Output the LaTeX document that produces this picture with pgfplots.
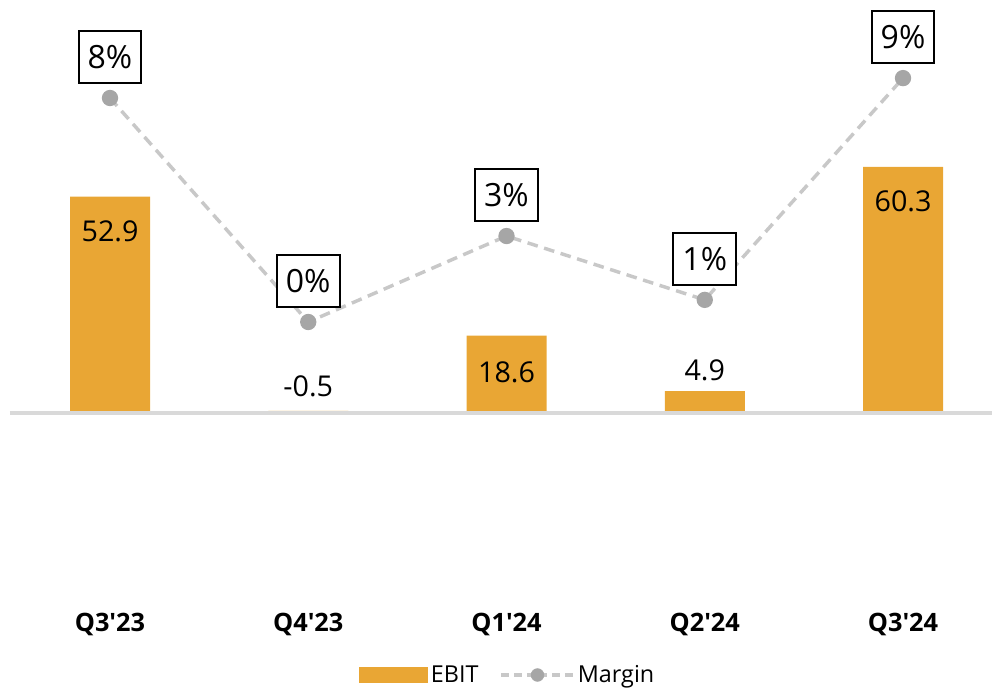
\documentclass[border=0pt]{standalone}
\usepackage{pgfplots}
\pgfplotsset{compat=1.18}
\usepackage{fontspec}
\setmainfont{Open Sans}[Ligatures=TeXOff]
\definecolor{barc}{HTML}{E9A634}
\definecolor{basec}{HTML}{D9D9D9}
\definecolor{linec}{HTML}{C8C8C8}
\definecolor{dotc}{HTML}{A6A6A6}
\begin{document}
\begin{tikzpicture}[x=0.75pt,y=0.75pt]
\useasboundingbox (0,0) rectangle (992,689);
% EBIT axis
\begin{axis}[
  at={(0pt,66.75pt)}, anchor=south west,
  scale only axis, width=744pt, height=450pt,
  xmin=-0.5549, xmax=4.4489,
  ymin=-46.67, ymax=101.48,
  axis lines=none,
  clip=false,
  legend style={at={(0.512,-0.125)}, anchor=center, draw=none, fill=none,
    legend columns=2, font=\fontsize{17.5}{20}\selectfont,
    /tikz/every even column/.append style={column sep=14pt},
    legend cell align=left},
]
\addplot[ybar, bar width=60pt, fill=barc, draw=none, bar shift=0pt,
  legend image code/.code={\fill[barc] (0pt,-6pt) rectangle (52pt,6pt);}]
  coordinates {(0,52.9) (1,-0.5) (2,18.6) (3,4.9) (4,60.3)};
\addlegendentry{EBIT}
\addlegendimage{legend image code/.code={
  \draw[linec, line width=2.6pt, dash pattern=on 6pt off 3.5pt] (0pt,0pt) -- (54pt,0pt);
  \fill[dotc] (27pt,0pt) circle (4.8pt);}}
\addlegendentry{Margin}
\draw[basec, line width=3pt] (axis cs:-0.5045,-0.5) -- (axis cs:4.4489,-0.5);
\addplot[draw=none, mark=none, nodes near coords, point meta=explicit symbolic,
  nodes near coords style={anchor=center, font=\fontsize{21.5}{24}\selectfont, text=black}]
  coordinates {(0,44.4)[52.9] (1,6.2)[-0.5] (2,9.63)[18.6] (3,10.1)[4.9] (4,51.85)[60.3]};
\end{axis}
% margin axis
\begin{axis}[
  at={(0pt,66.75pt)}, anchor=south west,
  scale only axis, width=744pt, height=450pt,
  xmin=-0.5549, xmax=4.4489,
  ymin=-9.929, ymax=11.5,
  axis lines=none, clip=false,
]
\addplot[draw=linec, line width=2.6pt, dash pattern=on 8pt off 5pt,
  mark=*, mark size=4.8pt, mark options={solid, fill=dotc, draw=dotc},
  nodes near coords, point meta=explicit symbolic,
  nodes near coords style={anchor=center, yshift=30.75pt, draw=black, line width=1.5pt,
    fill=white, minimum width=47pt, minimum height=39.5pt, inner sep=2pt,
    font=\fontsize{24}{28}\selectfont, text=black}]
  coordinates {(0,8.0)[8\%] (1,0.0)[0\%] (2,3.07)[3\%] (3,0.79)[1\%] (4,8.71)[9\%]};
\addplot[draw=none, mark=none, nodes near coords, point meta=explicit symbolic,
  nodes near coords style={anchor=center, font=\bfseries\fontsize{19}{22}\selectfont, text=black}]
  coordinates {(0,-10.79)[Q3'23] (1,-10.79)[Q4'23] (2,-10.79)[Q1'24] (3,-10.79)[Q2'24] (4,-10.79)[Q3'24]};
\end{axis}
\end{tikzpicture}
\end{document}
